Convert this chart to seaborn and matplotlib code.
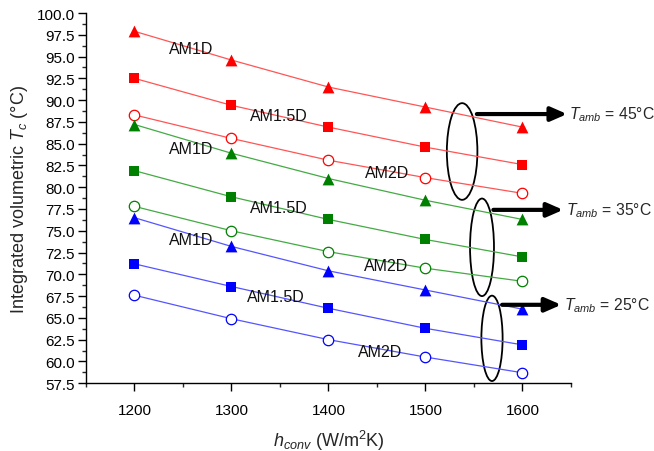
import matplotlib
matplotlib.use("Agg")
import matplotlib.pyplot as plt
import seaborn as sns
import pandas as pd
from matplotlib.patches import Ellipse
from matplotlib.ticker import MultipleLocator, FormatStrFormatter

h_conv = [1200, 1300, 1400, 1500, 1600]

# T_amb = 45 C (red)
red_am1d = [97.9, 94.6, 91.5, 89.2, 86.9]
red_am15d = [92.5, 89.4, 86.9, 84.6, 82.6]
red_am2d = [88.3, 85.6, 83.1, 81.1, 79.3]
# T_amb = 35 C (green)
green_am1d = [87.2, 83.9, 81.0, 78.5, 76.3]
green_am15d = [81.9, 78.9, 76.3, 74.0, 72.0]
green_am2d = [77.8, 75.0, 72.6, 70.7, 69.2]
# T_amb = 25 C (blue)
blue_am1d = [76.5, 73.2, 70.4, 68.2, 66.0]
blue_am15d = [71.2, 68.6, 66.1, 63.8, 61.9]
blue_am2d = [67.6, 64.9, 62.5, 60.5, 58.7]

series = [
    ("red_am1d", red_am1d, "#ff0000", "^", True),
    ("red_am15d", red_am15d, "#ff0000", "s", True),
    ("red_am2d", red_am2d, "#ff0000", "o", False),
    ("green_am1d", green_am1d, "#008000", "^", True),
    ("green_am15d", green_am15d, "#008000", "s", True),
    ("green_am2d", green_am2d, "#008000", "o", False),
    ("blue_am1d", blue_am1d, "#0000ff", "^", True),
    ("blue_am15d", blue_am15d, "#0000ff", "s", True),
    ("blue_am2d", blue_am2d, "#0000ff", "o", False),
]
line_colors = {"#ff0000": "#ff5555", "#008000": "#44aa44", "#0000ff": "#5555ff"}

labels_text = ["AM1D", "AM1.5D", "AM2D"] * 3
label_pos = [(1258, 95.9), (1349, 88.2), (1460, 81.7),
             (1258, 84.4), (1349, 77.7), (1459, 71.0),
             (1258, 74.0), (1346, 67.4), (1453, 61.1)]

tamb_labels = ["45", "35", "25"]
ellipses = [(1537.8, 84.1, 31.5, 11.1), (1558.3, 73.1, 24.7, 11.2), (1568.6, 62.65, 21.9, 9.8)]
arrows = [(1553, 1646, 88.4), (1570, 1642, 77.4), (1579, 1640, 66.5)]

sns.set_theme(style="ticks")
plt.rcParams["font.family"] = ["Liberation Sans", "DejaVu Sans"]
plt.rcParams["mathtext.fontset"] = "custom"
plt.rcParams["mathtext.it"] = "Liberation Sans:italic"
plt.rcParams["mathtext.rm"] = "Liberation Sans"

fig = plt.figure(figsize=(6.54, 4.52), dpi=100)
ax = fig.add_axes([0.1315, 0.150, 0.7415, 0.819])

for name, vals, col, mk, filled in series:
    df = pd.DataFrame({"h": h_conv, "T": vals})
    ms = 8.5 if mk == "^" else (6.5 if mk == "s" else 7.5)
    sns.lineplot(data=df, x="h", y="T", ax=ax, color=line_colors[col], lw=0.9, alpha=1,
                 legend=False)
    sns.scatterplot(data=df, x="h", y="T", ax=ax, marker=mk, s=ms ** 2,
                    color=(col if filled else "white"),
                    edgecolor=col, linewidth=(0 if filled else 0.9),
                    legend=False, zorder=3)

for t, (x, y) in zip(labels_text, label_pos):
    ax.text(x, y, t, ha="center", va="center", fontsize=11.5, color="#111111")

for (cx, cy, w, h) in ellipses:
    ax.add_patch(Ellipse((cx, cy), w, h, fill=False, ec="black", lw=1.3, clip_on=False))

for (x0, x1, y), tl in zip(arrows, tamb_labels):
    ax.annotate("", xy=(x1, y), xytext=(x0, y),
                arrowprops=dict(arrowstyle="-|>,head_length=0.8,head_width=0.35",
                                color="black", lw=3, shrinkA=0, shrinkB=0),
                annotation_clip=False)
    ax.text(x1 + 2.5, y, r"$T_{amb}$" + " = " + tl + "°C", ha="left", va="center",
            fontsize=11.3, clip_on=False)

ax.set_xlim(1150, 1650)
ax.set_ylim(57.5, 100)
ax.xaxis.set_minor_locator(MultipleLocator(50))
ax.set_xticks([1200, 1300, 1400, 1500, 1600])
ax.yaxis.set_major_locator(MultipleLocator(2.5))
ax.yaxis.set_minor_locator(MultipleLocator(1.25))
ax.yaxis.set_major_formatter(FormatStrFormatter("%.1f"))
ax.tick_params(axis="both", which="major", length=6, width=1, direction="out",
               labelsize=11, colors="black", pad=3)
ax.tick_params(axis="y", which="major", pad=2)
ax.tick_params(axis="x", which="major", pad=8)
ax.tick_params(axis="both", which="minor", length=3, width=1, direction="out")
sns.despine(ax=ax)
for s in ["left", "bottom"]:
    ax.spines[s].set_color("black")
    ax.spines[s].set_linewidth(1)

ax.set_xlabel(r"$h_{conv}$" + " (W/m" + r"$^{2}$" + "K)", fontsize=13, labelpad=8)
ax.set_ylabel("Integrated volumetric " + r"$T_c$" + " (°C)", fontsize=13, labelpad=5)
ax.grid(False)

fig.savefig("out.png", dpi=100)
